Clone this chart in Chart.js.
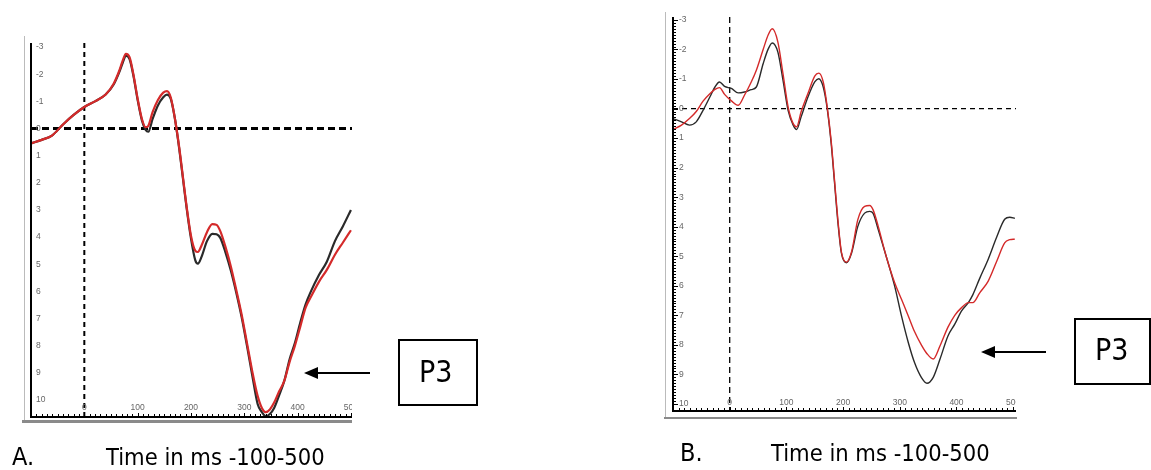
<!DOCTYPE html>
<html>
<head>
<meta charset="utf-8">
<script src="https://cdn.jsdelivr.net/npm/chart.js@4.4.0/dist/chart.umd.min.js"></script>
<style>
  body { margin: 0; background: #fff; width: 1151px; height: 470px; overflow: hidden; position: relative; font-family: "DejaVu Sans Condensed", "DejaVu Sans", sans-serif; }
  canvas, .abs { position: absolute; }
  .gray { background: #8a8a8a; }
  .box { border: 2px solid #000; box-sizing: border-box; font-size: 30px; color: #000; }
  .cap { font-size: 23.5px; color: #000; white-space: nowrap; }
</style>
</head>
<body>

<!-- frame lines around each plot -->
<div class="abs" style="left:24px;top:36px;width:1px;height:386px;background:#bbb"></div>
<div class="abs gray" style="left:22px;top:420px;width:330px;height:3px"></div>
<div class="abs" style="left:665px;top:12px;width:1px;height:406px;background:#bbb"></div>
<div class="abs gray" style="left:664px;top:417px;width:353px;height:2px"></div>

<canvas id="chartA" width="325" height="382" style="left:27px;top:39px"></canvas>
<canvas id="chartB" width="347" height="402" style="left:669px;top:13px"></canvas>

<!-- P3 arrows and boxes -->
<svg class="abs" style="left:0;top:0" width="1151" height="470">
  <line x1="316" y1="373" x2="370" y2="373" stroke="#000" stroke-width="2"/>
  <polygon points="304,373 318,367 318,379" fill="#000"/>
  <line x1="993" y1="352" x2="1046" y2="352" stroke="#000" stroke-width="2"/>
  <polygon points="981,352 995,346 995,358" fill="#000"/>
</svg>
<div class="abs box" style="left:398px;top:339px;width:80px;height:67px"><span class="abs" style="left:19px;top:13px">P3</span></div>
<div class="abs box" style="left:1074px;top:318px;width:77px;height:67px"><span class="abs" style="left:19px;top:12px">P3</span></div>

<div class="abs cap" style="left:12px;top:442px;font-size:25px">A.</div>
<div class="abs cap" style="left:106px;top:443px">Time in ms -100-500</div>
<div class="abs cap" style="left:680px;top:438px;font-size:25px">B.</div>
<div class="abs cap" style="left:771px;top:439px">Time in ms -100-500</div>

<script>
// panel A (ms, microvolts; negative up)
const timesA = [-100, -80, -60, -40, -20, 0, 20, 40, 55, 65, 72, 78, 85, 92, 100, 108, 115, 120, 128, 138, 148, 155, 162, 170, 178, 185, 192, 200, 208, 213, 220, 230, 240, 248, 255, 265, 275, 285, 295, 305, 315, 325, 333, 340, 348, 356, 365, 375, 385, 395, 405, 415, 425, 440, 455, 470, 485, 500]
const redA = [0.55, 0.42, 0.25, -0.15, -0.5, -0.79, -1.0, -1.25, -1.65, -2.1, -2.5, -2.75, -2.62, -2.0, -1.1, -0.35, -0.05, -0.1, -0.6, -1.05, -1.32, -1.38, -1.15, -0.35, 0.7, 1.8, 2.9, 3.95, 4.5, 4.55, 4.3, 3.82, 3.52, 3.55, 3.78, 4.38, 5.1, 5.95, 6.85, 7.9, 8.95, 9.85, 10.3, 10.45, 10.35, 10.1, 9.7, 9.3, 8.6, 8.0, 7.3, 6.6, 6.2, 5.65, 5.2, 4.65, 4.2, 3.75]
const blackA = [0.55, 0.42, 0.25, -0.15, -0.5, -0.79, -1.0, -1.25, -1.62, -2.05, -2.42, -2.68, -2.55, -1.95, -1.05, -0.3, 0.05, 0.12, -0.35, -0.85, -1.15, -1.25, -1.1, -0.35, 0.75, 1.85, 2.95, 4.05, 4.85, 4.98, 4.72, 4.15, 3.88, 3.9, 4.03, 4.58, 5.25, 6.05, 6.95, 8.0, 9.1, 10.15, 10.45, 10.6, 10.52, 10.3, 9.85, 9.3, 8.5, 7.9, 7.15, 6.48, 6.0, 5.4, 4.9, 4.15, 3.6, 3.0]

// panel B
const timesB = [-100, -85, -71, -59, -47, -35, -26, -18, -9, 3, 15, 26, 38, 47, 59, 68, 75, 85, 94, 103, 112, 118, 126, 138, 150, 157, 165, 172, 179, 185, 191, 197, 206, 215, 226, 238, 247, 253, 262, 276, 291, 303, 315, 326, 338, 348, 359, 371, 385, 397, 409, 421, 429, 441, 456, 471, 485, 494, 503]
const redB = [0.71, 0.56, 0.34, 0.1, -0.25, -0.5, -0.65, -0.71, -0.48, -0.26, -0.11, -0.45, -0.9, -1.3, -2.0, -2.5, -2.7, -2.25, -1.18, -0.06, 0.51, 0.62, 0.11, -0.51, -1.1, -1.2, -0.9, -0.06, 1.1, 2.45, 3.8, 4.85, 5.2, 4.85, 3.76, 3.31, 3.28, 3.43, 3.99, 5.0, 5.9, 6.46, 7.02, 7.55, 8.0, 8.3, 8.48, 8.03, 7.4, 7.0, 6.74, 6.57, 6.57, 6.24, 5.84, 5.17, 4.55, 4.44, 4.42]
const blackB = [0.34, 0.45, 0.56, 0.45, 0.06, -0.39, -0.73, -0.9, -0.75, -0.68, -0.53, -0.56, -0.64, -0.73, -1.52, -2.02, -2.22, -1.91, -0.96, 0.06, 0.56, 0.71, 0.28, -0.39, -0.9, -1.01, -0.73, 0, 1.18, 2.53, 3.88, 4.89, 5.22, 4.89, 3.99, 3.54, 3.48, 3.55, 4.1, 5.0, 6.01, 7.02, 7.92, 8.6, 9.1, 9.3, 9.1, 8.48, 7.7, 7.3, 6.85, 6.57, 6.3, 5.75, 5.1, 4.35, 3.75, 3.68, 3.72]

const yTicks = [-3, -2, -1, 0, 1, 2, 3, 4, 5, 6, 7, 8, 9, 10]
const xTicks = [0, 100, 200, 300, 400, 500]

function pts(t, v){
    return t.map((x, i) => ({x: x, y: v[i]}))
}

// axes, ticks, labels and zero lines, placed with the chart's own scales
const erpAxes = {
    id: 'erpAxes',
    beforeDatasetsDraw(chart, args, o){
        const {ctx, chartArea: a, scales: {x, y}} = chart
        ctx.save()
        ctx.strokeStyle = '#000'
        ctx.lineWidth = o.hWidth
        ctx.setLineDash(o.hDash)
        const y0 = y.getPixelForValue(0)
        ctx.beginPath(); ctx.moveTo(a.left, y0); ctx.lineTo(a.right, y0); ctx.stroke()
        ctx.lineWidth = o.vWidth
        ctx.setLineDash(o.vDash)
        const x0 = x.getPixelForValue(0)
        ctx.beginPath(); ctx.moveTo(x0, a.top); ctx.lineTo(x0, a.bottom); ctx.stroke()
        ctx.restore()
    },
    afterDraw(chart, args, o){
        const {ctx, chartArea: a, scales: {x, y}} = chart
        ctx.save()
        ctx.strokeStyle = '#000'
        ctx.lineWidth = 2
        ctx.beginPath()
        ctx.moveTo(a.left, a.top); ctx.lineTo(a.left, a.bottom); ctx.lineTo(a.right, a.bottom)
        ctx.stroke()

        ctx.lineWidth = 1
        ctx.beginPath()
        // ticks every 10 ms on the time axis
        for (let t = -100; t <= x.max; t += 10){
            const px = Math.round(x.getPixelForValue(t)) + 0.5
            ctx.moveTo(px, a.bottom); ctx.lineTo(px, a.bottom - (t % 100 === 0 ? 4 : 3))
        }
        if (o.minorY){
            for (let v = -30; v <= 100; v += 1){
                const py = Math.round(y.getPixelForValue(v / 10)) + 0.5
                if (py < a.top || py > a.bottom) continue
                ctx.moveTo(a.left, py); ctx.lineTo(a.left + (v % 10 === 0 ? 5 : 3), py)
            }
        }
        ctx.stroke()

        ctx.fillStyle = '#666'
        ctx.font = '8.5px "Liberation Sans", Arial, sans-serif'
        ctx.textBaseline = 'middle'
        ctx.textAlign = 'left'
        yTicks.forEach(v => ctx.fillText(String(v), a.left + o.yLabelOff, y.getPixelForValue(v)))
        ctx.textAlign = 'center'
        xTicks.forEach(t => ctx.fillText(String(t), x.getPixelForValue(t), a.bottom - o.xLabelOff))
        ctx.restore()
    }
}

function makeChart(id, times, red, black, xMax, yMin, yMax, width, axes){
    return new Chart(document.getElementById(id), {
        type: 'line',
        data: {
            datasets: [
                {data: pts(times, red), borderColor: '#d42a2a', borderWidth: width, pointRadius: 0, cubicInterpolationMode: 'monotone'},
                {data: pts(times, black), borderColor: '#2a2a2a', borderWidth: width, pointRadius: 0, cubicInterpolationMode: 'monotone'}
            ]
        },
        options: {
            responsive: false,
            animation: false,
            layout: {padding: {left: 4, top: 4, bottom: 4, right: 0}},
            plugins: {legend: {display: false}, tooltip: {enabled: false}, erpAxes: axes},
            scales: {
                x: {type: 'linear', min: -100, max: xMax, display: false},
                y: {min: yMin, max: yMax, reverse: true, display: false}
            }
        },
        plugins: [erpAxes]
    })
}

makeChart('chartA', timesA, redA, blackA, 502, -3.15, 10.63, 2.2,
    {hWidth: 3, hDash: [7, 4], vWidth: 2, vDash: [5, 4], minorY: false, yLabelOff: 5, xLabelOff: 9})
makeChart('chartB', timesB, redB, blackB, 505, -3.1, 10.24, 1.4,
    {hWidth: 1.3, hDash: [5, 4], vWidth: 1.3, vDash: [6, 4], minorY: true, yLabelOff: 6, xLabelOff: 8})
</script>
</body>
</html>
